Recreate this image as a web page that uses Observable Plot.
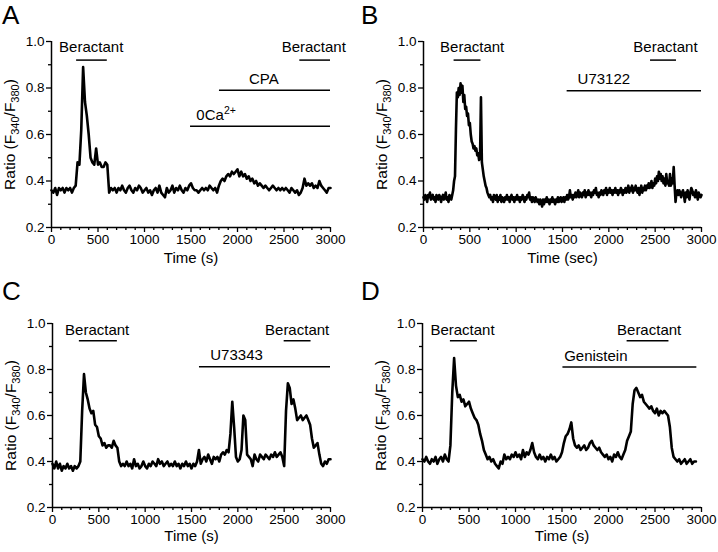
<!DOCTYPE html>
<html><head><meta charset="utf-8">
<script src="https://cdn.jsdelivr.net/npm/d3@7"></script>
<script src="https://cdn.jsdelivr.net/npm/@observablehq/plot@0.6"></script>
<style>
body{margin:0;background:#fff;font-family:"Liberation Sans",Arial,sans-serif;}
#wrap{position:relative;width:718px;height:552px;overflow:hidden;}
.panel{position:absolute;width:359px;height:276px;}
.letter{position:absolute;font-size:26px;line-height:26px;color:#000;font-family:"Liberation Sans",Arial,sans-serif;}
</style></head><body><div id="wrap"></div>
<script>
// ---------- data ----------
const xTicks = [0, 500, 1000, 1500, 2000, 2500, 3000];
const xMinor = [100,200,300,400,600,700,800,900,1100,1200,1300,1400,1600,1700,1800,1900,2100,2200,2300,2400,2600,2700,2800,2900];
const yTicks = [0.2, 0.4, 0.6, 0.8, 1.0];
const yMinor = [0.3, 0.5, 0.7, 0.9];
const yLabel = "Ratio (F340/F380)";

// Panel A (sampled every 20 s)
const stepA = 20;
const ratioA = [
0.36,0.35,0.37,0.34,0.37,0.36,0.37,0.35,0.37,0.36,
0.37,0.35,0.37,0.38,0.48,0.47,0.62,0.89,0.74,0.68,
0.60,0.50,0.48,0.47,0.54,0.47,0.48,0.46,0.46,0.48,
0.47,0.35,0.37,0.36,0.37,0.35,0.37,0.36,0.38,0.36,
0.35,0.37,0.38,0.36,0.35,0.37,0.36,0.38,0.37,0.35,
0.36,0.37,0.35,0.36,0.34,0.36,0.37,0.35,0.38,0.35,
0.34,0.33,0.37,0.35,0.36,0.38,0.35,0.37,0.36,0.38,
0.36,0.35,0.37,0.36,0.38,0.39,0.37,0.36,0.36,0.35,
0.36,0.37,0.36,0.37,0.36,0.38,0.37,0.36,0.37,0.35,
0.38,0.40,0.41,0.40,0.42,0.43,0.42,0.44,0.43,0.44,
0.45,0.42,0.44,0.42,0.43,0.41,0.42,0.40,0.41,0.39,
0.40,0.38,0.39,0.38,0.37,0.38,0.37,0.36,0.37,0.38,
0.37,0.36,0.37,0.36,0.37,0.36,0.37,0.36,0.35,0.37,
0.36,0.35,0.36,0.34,0.35,0.37,0.41,0.38,0.39,0.38,
0.39,0.37,0.38,0.37,0.40,0.38,0.37,0.36,0.35,0.37,
0.37];
const barsA = [{x1:270,x2:600,y:0.92},{x1:2670,x2:3000,y:0.92},{x1:1806,x2:3000,y:0.79},{x1:1495,x2:3000,y:0.636}];
const labelsA = [{x:427,y:0.975,text:"Beractant"},{x:2820,y:0.975,text:"Beractant"},{x:2283,y:0.838,text:"CPA"},{x:1770,y:0.685,text:"0Ca2+"}];

// Panel B (sampled every 10 s)
const stepB = 10;
const ratioB = [
0.33,0.32,0.34,0.33,0.31,0.34,0.33,0.35,0.32,0.33,
0.34,0.32,0.33,0.31,0.34,0.33,0.32,0.34,0.33,0.31,
0.33,0.34,0.32,0.33,0.35,0.32,0.33,0.31,0.34,0.33,
0.32,0.34,0.36,0.40,0.42,0.62,0.78,0.76,0.80,0.77,
0.82,0.78,0.81,0.74,0.77,0.71,0.72,0.68,0.69,0.64,
0.65,0.60,0.57,0.56,0.54,0.55,0.53,0.54,0.51,0.52,
0.49,0.50,0.76,0.48,0.45,0.42,0.40,0.38,0.37,0.35,
0.34,0.33,0.34,0.32,0.33,0.31,0.34,0.33,0.32,0.34,
0.31,0.33,0.32,0.34,0.31,0.33,0.32,0.31,0.33,0.32,
0.34,0.32,0.33,0.31,0.33,0.34,0.32,0.33,0.31,0.33,
0.32,0.34,0.32,0.33,0.31,0.33,0.32,0.34,0.33,0.31,
0.33,0.32,0.34,0.33,0.35,0.32,0.33,0.31,0.33,0.32,
0.31,0.33,0.32,0.31,0.32,0.30,0.32,0.31,0.29,0.32,
0.30,0.32,0.31,0.33,0.31,0.32,0.30,0.32,0.31,0.33,
0.31,0.32,0.30,0.32,0.31,0.33,0.31,0.32,0.33,0.31,
0.32,0.33,0.31,0.33,0.32,0.34,0.32,0.33,0.36,0.33,
0.34,0.32,0.34,0.33,0.35,0.33,0.34,0.36,0.33,0.35,
0.34,0.33,0.35,0.34,0.36,0.33,0.35,0.34,0.36,0.34,
0.35,0.33,0.35,0.34,0.36,0.35,0.37,0.34,0.35,0.33,
0.35,0.34,0.36,0.35,0.34,0.36,0.35,0.37,0.34,0.36,
0.35,0.37,0.35,0.36,0.34,0.36,0.35,0.37,0.35,0.36,
0.34,0.36,0.35,0.37,0.36,0.34,0.36,0.35,0.37,0.35,
0.36,0.38,0.35,0.37,0.36,0.38,0.35,0.37,0.36,0.38,
0.36,0.35,0.37,0.34,0.36,0.38,0.35,0.37,0.36,0.38,
0.36,0.38,0.37,0.39,0.37,0.38,0.40,0.37,0.39,0.38,
0.41,0.39,0.42,0.40,0.44,0.41,0.43,0.40,0.42,0.39,
0.41,0.38,0.43,0.39,0.40,0.38,0.43,0.38,0.41,0.39,
0.46,0.38,0.31,0.35,0.36,0.34,0.36,0.35,0.33,0.35,
0.36,0.34,0.31,0.35,0.33,0.36,0.34,0.32,0.35,0.37,
0.36,0.34,0.35,0.33,0.36,0.34,0.32,0.35,0.34,0.33,
0.34];
const barsB = [{x1:330,x2:620,y:0.92},{x1:2450,x2:2730,y:0.92},{x1:1550,x2:3000,y:0.788}];
const labelsB = [{x:525,y:0.975,text:"Beractant"},{x:2611,y:0.975,text:"Beractant"},{x:1946,y:0.84,text:"U73122"}];

// Panel C (sampled every 20 s)
const stepC = 20;
const ratioC = [
0.39,0.37,0.40,0.37,0.39,0.36,0.38,0.37,0.39,0.37,
0.38,0.36,0.38,0.37,0.38,0.40,0.62,0.78,0.70,0.67,
0.63,0.61,0.62,0.56,0.55,0.51,0.50,0.47,0.48,0.46,
0.47,0.47,0.46,0.49,0.47,0.46,0.40,0.38,0.39,0.38,
0.40,0.38,0.39,0.37,0.41,0.38,0.39,0.37,0.38,0.40,
0.38,0.37,0.39,0.38,0.40,0.39,0.38,0.41,0.39,0.40,
0.38,0.39,0.40,0.38,0.39,0.38,0.40,0.38,0.39,0.37,
0.39,0.38,0.40,0.38,0.39,0.37,0.39,0.38,0.40,0.45,
0.39,0.41,0.42,0.40,0.43,0.41,0.39,0.42,0.41,0.42,
0.40,0.43,0.44,0.43,0.45,0.44,0.52,0.66,0.55,0.42,
0.40,0.41,0.45,0.60,0.58,0.43,0.42,0.41,0.38,0.43,
0.41,0.40,0.43,0.42,0.41,0.43,0.42,0.41,0.43,0.42,
0.44,0.42,0.43,0.44,0.42,0.38,0.62,0.74,0.72,0.65,
0.67,0.63,0.58,0.59,0.60,0.58,0.59,0.60,0.58,0.56,
0.50,0.46,0.47,0.48,0.43,0.39,0.38,0.40,0.39,0.41,
0.41];
const barsC = [{x1:290,x2:700,y:0.925},{x1:2500,x2:2790,y:0.925},{x1:1586,x2:3000,y:0.812}];
const labelsC = [{x:482,y:0.972,text:"Beractant"},{x:2640,y:0.972,text:"Beractant"},{x:1986,y:0.861,text:"U73343"}];

// Panel D (sampled every 20 s, ends at 2940 s)
const stepD = 20;
const ratioD = [
0.41,0.40,0.42,0.40,0.39,0.41,0.40,0.42,0.39,0.41,
0.42,0.40,0.43,0.41,0.40,0.47,0.70,0.85,0.73,0.68,
0.69,0.66,0.67,0.64,0.65,0.66,0.63,0.61,0.59,0.58,
0.56,0.52,0.49,0.45,0.43,0.41,0.42,0.40,0.41,0.39,
0.38,0.37,0.40,0.39,0.43,0.41,0.42,0.41,0.43,0.42,
0.44,0.42,0.43,0.41,0.45,0.42,0.44,0.43,0.45,0.48,
0.44,0.42,0.41,0.43,0.41,0.42,0.40,0.42,0.41,0.43,
0.41,0.42,0.40,0.41,0.42,0.44,0.48,0.51,0.52,0.54,
0.57,0.50,0.47,0.46,0.47,0.45,0.46,0.47,0.45,0.46,
0.48,0.49,0.47,0.46,0.45,0.46,0.44,0.43,0.42,0.43,
0.41,0.42,0.40,0.43,0.42,0.44,0.42,0.41,0.43,0.45,
0.49,0.51,0.53,0.65,0.71,0.72,0.70,0.68,0.69,0.66,
0.65,0.64,0.63,0.64,0.62,0.61,0.63,0.60,0.62,0.61,
0.62,0.61,0.60,0.55,0.46,0.42,0.41,0.40,0.41,0.39,
0.40,0.41,0.39,0.40,0.41,0.39,0.40,0.40];
const barsD = [{x1:300,x2:590,y:0.925},{x1:2200,x2:2650,y:0.925},{x1:1510,x2:2950,y:0.811}];
const labelsD = [{x:430,y:0.972,text:"Beractant"},{x:2437,y:0.972,text:"Beractant"},{x:1864,y:0.859,text:"Genistein"}];

// ---------- layout ----------
const panels = [
  {letter:"A", left:0,   top:0,   ml:51, mr:29, mt:41, mb:49, values:ratioA, step:stepA, xLabel:"Time (s)",   bars:barsA, labels:labelsA, xl:31},
  {letter:"B", left:359, top:0,   ml:64, mr:17, mt:41, mb:49, values:ratioB, step:stepB, xLabel:"Time (sec)", bars:barsB, labels:labelsB, xl:31},
  {letter:"C", left:0,   top:276, ml:52, mr:29, mt:47, mb:45, values:ratioC, step:stepC, xLabel:"Time (s)",   bars:barsC, labels:labelsC, xl:29},
  {letter:"D", left:359, top:276, ml:63, mr:17, mt:47, mb:45, values:ratioD, step:stepD, xLabel:"Time (s)",   bars:barsD, labels:labelsD, xl:29}
];

const wrap = document.getElementById("wrap");
const FONT = "Liberation Sans, Arial, sans-serif";

function richify(svg) {
  d3.select(svg).selectAll("text").each(function() {
    const t = this.textContent;
    const s = d3.select(this);
    if (t === yLabel) {
      this.textContent = "";
      s.append("tspan").text("Ratio (F");
      s.append("tspan").attr("dy", 4).attr("font-size", "11px").text("340");
      s.append("tspan").attr("dy", -4).text("/F");
      s.append("tspan").attr("dy", 4).attr("font-size", "11px").text("380");
      s.append("tspan").attr("dy", -4).text(")");
    } else if (t === "0Ca2+") {
      this.textContent = "";
      s.append("tspan").text("0Ca");
      s.append("tspan").attr("dy", -6).attr("font-size", "10.5px").text("2+");
    }
  });
}

for (const p of panels) {
  const div = document.createElement("div");
  div.className = "panel";
  div.style.left = p.left + "px";
  div.style.top = p.top + "px";
  const chart = Plot.plot({
    width: 359, height: 276,
    marginLeft: p.ml, marginRight: p.mr, marginTop: p.mt, marginBottom: p.mb,
    style: {fontFamily: FONT, fontSize: "13.5px", color: "#000", background: "transparent", overflow: "visible"},
    x: {domain: [0, 3000]},
    y: {domain: [0.2, 1.0]},
    marks: [
      Plot.axisX({ticks: xMinor, tickSize: 3, text: null, label: null, strokeWidth: 1.3}),
      Plot.axisX({ticks: xTicks, tickSize: 5, tickPadding: 2, tickFormat: d => String(d), label: null, strokeWidth: 1.3, fontSize: 13.5}),
      Plot.axisY({ticks: yMinor, tickSize: 3, text: null, label: null, strokeWidth: 1.3}),
      Plot.axisY({ticks: yTicks, tickSize: 5, tickPadding: 2, tickFormat: d3.format(".1f"), label: null, strokeWidth: 1.3, fontSize: 13.5}),
      Plot.ruleY([0.2], {strokeWidth: 1.5}),
      Plot.ruleX([0], {strokeWidth: 1.5}),
      Plot.ruleY(p.bars, {y: "y", x1: "x1", x2: "x2", strokeWidth: 1.5}),
      Plot.text(p.labels, {x: "x", y: "y", text: "text", fontSize: 15}),
      Plot.line(p.values, {x: (d, i) => i * p.step, y: d => d, stroke: "#000", strokeWidth: 2.6, strokeLinejoin: "round"}),
      Plot.text([p.xLabel], {text: d => d, frameAnchor: "bottom", lineAnchor: "middle", textAnchor: "middle", dy: p.xl, fontSize: 15}),
      Plot.text([yLabel], {text: d => d, frameAnchor: "left", lineAnchor: "middle", textAnchor: "middle", dx: -41, rotate: -90, fontSize: 15.5})
    ]
  });
  richify(chart);
  div.appendChild(chart);
  const letter = document.createElement("div");
  letter.className = "letter";
  letter.textContent = p.letter;
  letter.style.left = (p.left + 2) + "px";
  letter.style.top = (p.top + 2) + "px";
  wrap.appendChild(div);
  wrap.appendChild(letter);
}
</script></body></html>
